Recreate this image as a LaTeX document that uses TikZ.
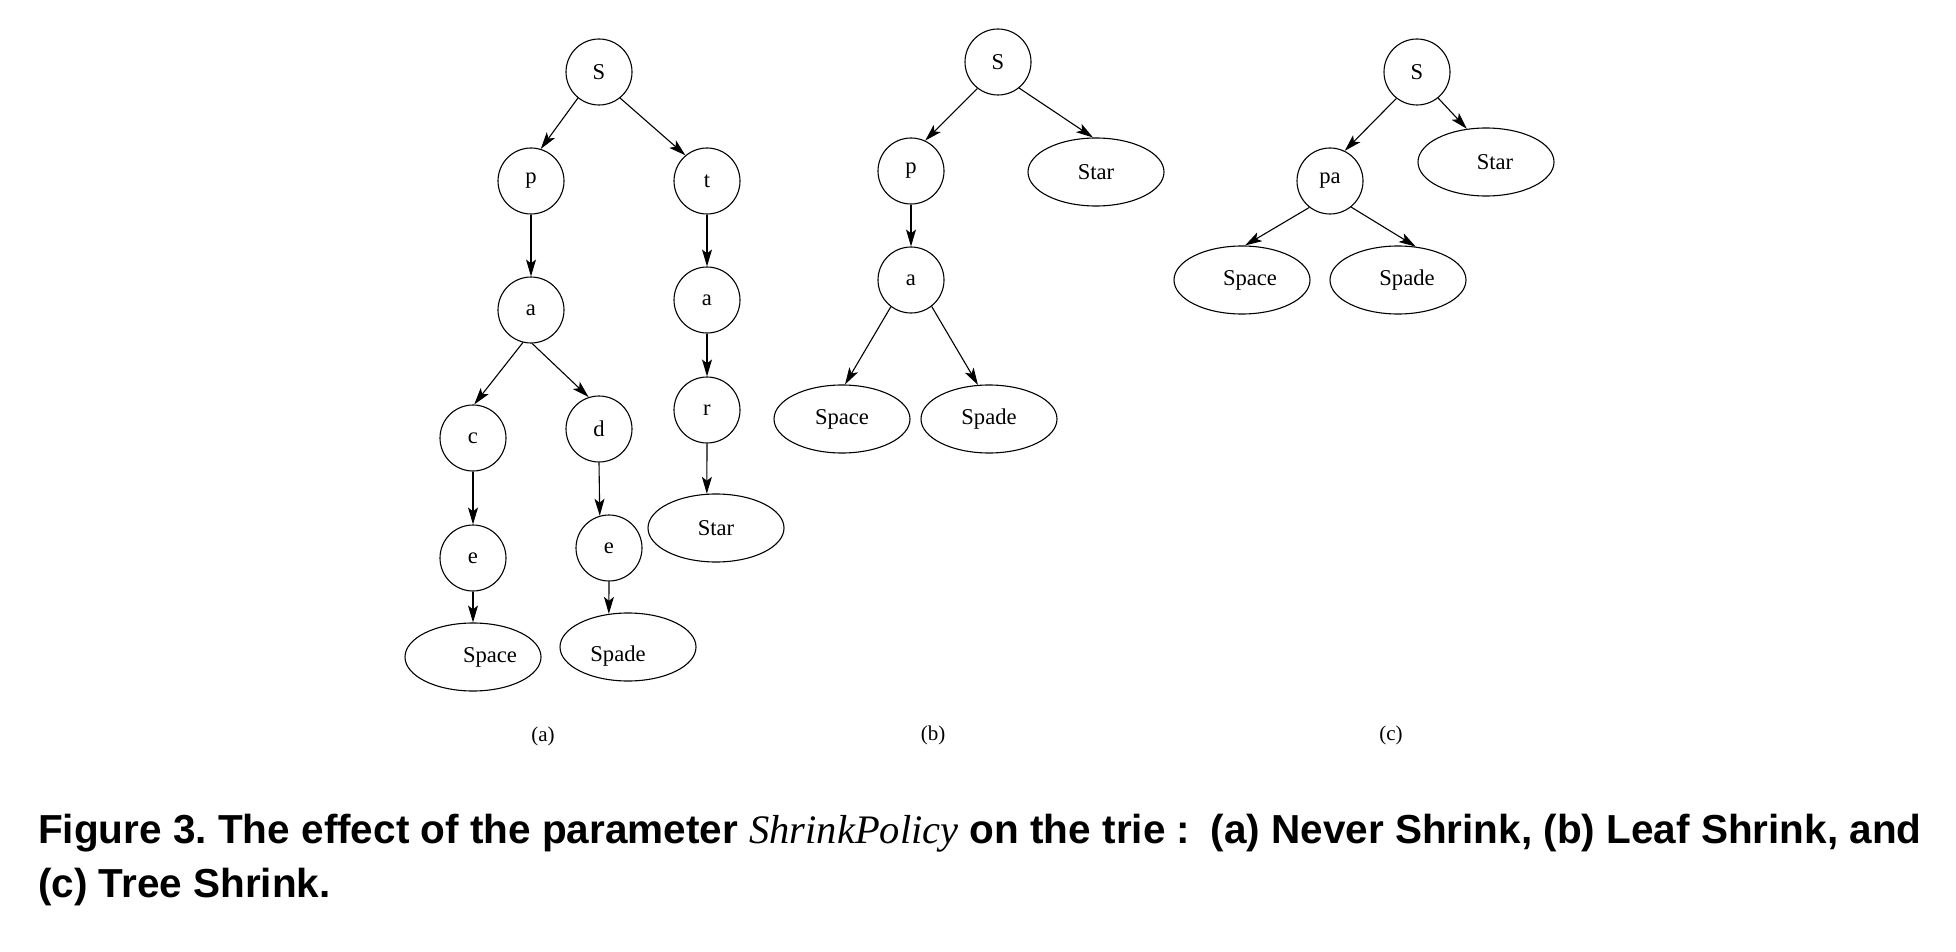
\documentclass[tikz,border=0pt]{standalone}
\usepackage{fontspec}
\setmainfont{Liberation Serif}
\newfontfamily\capfont{Liberation Sans}
\usetikzlibrary{shapes.geometric,arrows.meta}
\begin{document}
\frenchspacing
\begin{tikzpicture}[x=1pt,y=-1pt,
  every node/.style={font=\fontsize{22.6}{27}\selectfont},
  cnode/.style={draw,circle,minimum size=66pt,inner sep=0pt,line width=1.1pt},
  enode/.style={draw,ellipse,minimum width=136pt,minimum height=68pt,inner sep=0pt,line width=1.1pt},
  arr/.style={-{Stealth[length=17pt,width=10pt,inset=4pt]},line width=1.1pt},
  sublabel/.style={font=\fontsize{21}{25}\selectfont},
  captext/.style={anchor=base west,inner sep=0pt,font=\capfont\bfseries\fontsize{40.5}{50}\selectfont}
]
\useasboundingbox[fill=white] (0,0) rectangle (1956,952);

% ---------- (a) ----------
\node[cnode] (aS) at (599,72) {S};
\node[cnode] (ap) at (531,181) {p};
\node[cnode] (at) at (707,181) {t};
\node[cnode] (aa1) at (531,310) {a};
\node[cnode] (aa2) at (707,300) {a};
\node[cnode] (ac) at (473,438) {c};
\node[cnode] (ad) at (599,429) {d};
\node[cnode] (ar) at (707,410) {r};
\node[cnode] (ae1) at (473,558) {e};
\node[cnode] (ae2) at (609,548) {e};
\node[enode,label={[xshift=17pt]center:Space}] (aspace) at (473,657) {};
\node[enode,label={[xshift=-10pt,yshift=-9pt]center:Spade}] (aspade) at (628,647) {};
\node[enode] (astar) at (716,528) {Star};
\node[sublabel] (la) at (543,736) {(a)};

\draw[arr] (aS.231) -- (ap.73);
\draw[arr] (aS.-51) -- (at.130);
\draw[arr] (ap.south) -- (aa1.north);
\draw[arr] (at.south) -- (aa2.north);
\draw[arr] (aa2.south) -- (ar.north);
\draw[arr] (aa1.-104) -- (ac.88);
\draw[arr] (aa1.-88) -- (ad.108);
\draw[arr] (ac.south) -- (ae1.north);
\draw[arr] (ad.south) -- (ae2.106);
\draw[arr] (ae1.south) -- (aspace.north);
\draw[arr] (ae2.south) -- (aspade.120);
\draw[arr] (ar.south) -- (astar.105);

% ---------- (b) ----------
\node[cnode] (bS) at (998,62) {S};
\node[cnode] (bp) at (911,171) {p};
\node[enode] (bstar) at (1096,172) {Star};
\node[cnode] (ba) at (911,280) {a};
\node[enode] (bspace) at (842,419) {Space};
\node[enode] (bspade) at (989,419) {Spade};
\node[sublabel] (lb) at (933,735) {(b)};

\draw[arr] (bS.232) -- (bp.65);
\draw[arr] (bS.-51) -- (bstar.95);
\draw[arr] (bp.south) -- (ba.north);
\draw[arr] (ba.233) -- (bspace.85);
\draw[arr] (ba.-52) -- (bspade.108);

% ---------- (c) ----------
\node[cnode] (cS) at (1417,72) {S};
\node[cnode] (cpa) at (1330,181) {pa};
\node[enode,label={[xshift=9pt]center:Star}] (cstar) at (1486,162) {};
\node[enode,label={[xshift=8pt]center:Space}] (cspace) at (1242,280) {};
\node[enode,label={[xshift=9pt]center:Spade}] (cspade) at (1398,280) {};
\node[sublabel] (lc) at (1391,735) {(c)};

\draw[arr] (cS.232) -- (cpa.64);
\draw[arr] (cS.-51) -- (cstar.120);
\draw[arr] (cpa.232) -- (cspace.85);
\draw[arr] (cpa.-51) -- (cspade.62);

% ---------- caption ----------
\node[captext] (cap1) at (38,843) {Figure 3. The effect of the parameter {\rmfamily\mdseries\itshape ShrinkPolicy} on the trie :\hspace{9pt} (a) Never Shrink, (b) Leaf Shrink, and};
\node[captext] (cap2) at (38,897) {(c) Tree Shrink.};
\end{tikzpicture}
\end{document}
